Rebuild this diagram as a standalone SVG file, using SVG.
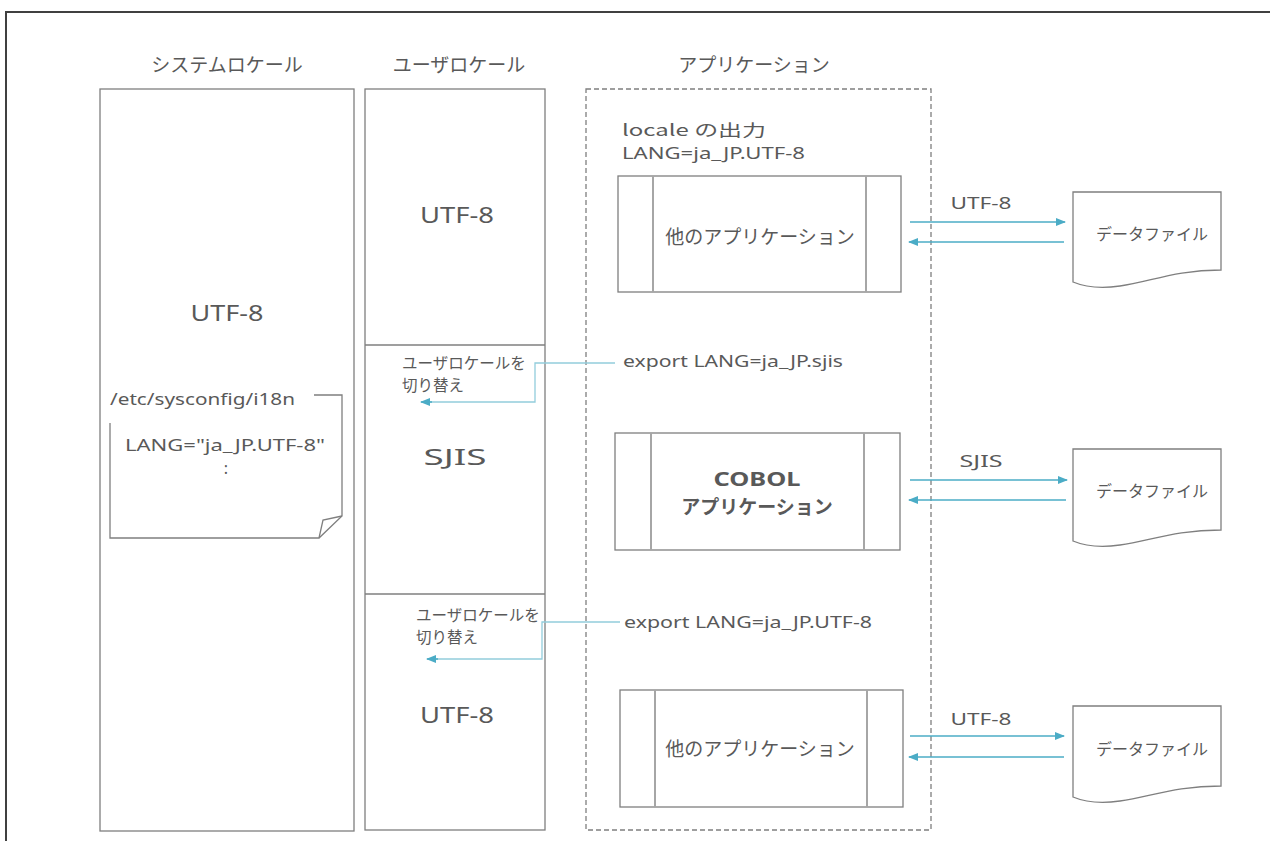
<svg xmlns="http://www.w3.org/2000/svg" width="1270" height="841" viewBox="0 0 1270 841">
<style>
text{font-family:"Noto Sans CJK JP","Noto Sans",sans-serif;fill:#595959}
.l{font-family:"Noto Sans","Noto Sans CJK JP",sans-serif}
.box{fill:#fff;stroke:#7f7f7f;stroke-width:1.3}
.in{stroke:#a6a6a6;stroke-width:2;fill:none}
.t{font-size:19px;text-anchor:middle}
.big{font-size:22px;text-anchor:middle}
.s{font-size:16px}
.sj{font-size:15.5px}
.arr{stroke:#4bacc6;stroke-width:1.5;fill:none;marker-end:url(#ah)}
.sw{stroke:#92cddc;stroke-width:1.3;fill:none}
</style>
<defs>
<marker id="ah" viewBox="0 0 10 10" refX="9" refY="5" markerWidth="10" markerHeight="10" markerUnits="userSpaceOnUse" orient="auto">
<path d="M0,1 L10,5 L0,9 Z" fill="#4bacc6"/>
</marker>
</defs>
<rect width="1270" height="841" fill="#fff"/>
<path d="M6,841 V12 H1270" fill="none" stroke="#404040" stroke-width="2"/>

<g id="system-locale">
<text class="t" x="227" y="72">システムロケール</text>
<rect class="box" x="100" y="89" width="254" height="742"/>
<text class="big l" x="227" y="321" textLength="73" lengthAdjust="spacingAndGlyphs">UTF-8</text>
</g>

<g id="config-file">
<text class="l" x="110" y="405" font-size="17" textLength="185" lengthAdjust="spacingAndGlyphs">/etc/sysconfig/i18n</text>
<path d="M314,395 H342 V516 L319,538 H110 V423" fill="none" stroke="#7f7f7f" stroke-width="1.3"/>
<path d="M342,516 L323,520 L319,538" fill="none" stroke="#7f7f7f" stroke-width="1.3"/>
<text class="l" x="225" y="451" font-size="16" text-anchor="middle" textLength="200" lengthAdjust="spacingAndGlyphs">LANG="ja_JP.UTF-8"</text>
<text class="l" x="226" y="474" font-size="16" text-anchor="middle">:</text>
</g>

<g id="user-locale">
<text class="t" x="459" y="72">ユーザロケール</text>
<rect class="box" x="365" y="89" width="180" height="741"/>
<line x1="365" y1="345" x2="545" y2="345" stroke="#7f7f7f" stroke-width="1.3"/>
<line x1="365" y1="594" x2="545" y2="594" stroke="#7f7f7f" stroke-width="1.3"/>
<text class="big l" x="457" y="223" textLength="74" lengthAdjust="spacingAndGlyphs">UTF-8</text>
<text class="big l" x="455" y="465" textLength="63" lengthAdjust="spacingAndGlyphs">SJIS</text>
<text class="big l" x="457" y="723" textLength="74" lengthAdjust="spacingAndGlyphs">UTF-8</text>
<text class="sj" x="402" y="369">ユーザロケールを</text>
<text class="sj" x="402" y="391">切り替え</text>
<text class="sj" x="416" y="621">ユーザロケールを</text>
<text class="sj" x="416" y="643">切り替え</text>
</g>

<g id="application">
<text class="t" x="754" y="72">アプリケーション</text>
<rect x="586" y="89" width="345" height="741" fill="none" stroke="#7f7f7f" stroke-width="1.3" stroke-dasharray="5,3"/>
<text class="s" x="622" y="136" textLength="144" lengthAdjust="spacingAndGlyphs">locale の出力</text>
<text class="s l" x="622" y="159" textLength="183" lengthAdjust="spacingAndGlyphs">LANG=ja_JP.UTF-8</text>
<text class="s l" x="623" y="367" textLength="220" lengthAdjust="spacingAndGlyphs">export LANG=ja_JP.sjis</text>
<text class="s l" x="624" y="628" textLength="248" lengthAdjust="spacingAndGlyphs">export LANG=ja_JP.UTF-8</text>
</g>

<g id="app1">
<rect class="box" x="618" y="176" width="283" height="116"/>
<line class="in" x1="653" y1="176" x2="653" y2="292"/>
<line class="in" x1="866" y1="176" x2="866" y2="292"/>
<text class="t" x="760" y="244">他のアプリケーション</text>
</g>

<g id="app2">
<rect class="box" x="615" y="433" width="285" height="117"/>
<line class="in" x1="651" y1="433" x2="651" y2="550"/>
<line class="in" x1="864" y1="433" x2="864" y2="550"/>
<text class="t l" x="757" y="486" font-weight="bold" textLength="87" lengthAdjust="spacingAndGlyphs">COBOL</text>
<text class="t" x="757" y="514" font-weight="bold">アプリケーション</text>
</g>

<g id="app3">
<rect class="box" x="620" y="690" width="283" height="117"/>
<line class="in" x1="655" y1="690" x2="655" y2="807"/>
<line class="in" x1="867" y1="690" x2="867" y2="807"/>
<text class="t" x="760" y="756">他のアプリケーション</text>
</g>

<g id="file1">
<path class="box" d="M1073,192 H1221 V270 C1175,270 1150,282 1120,286 C1100,289 1085,287 1073,282 Z"/>
<text x="1152" y="240" font-size="16" text-anchor="middle">データファイル</text>
</g>
<g id="file2">
<path class="box" d="M1073,449 H1221 V530 C1175,530 1150,541 1120,545 C1100,548 1085,546 1073,541 Z"/>
<text x="1152" y="497" font-size="16" text-anchor="middle">データファイル</text>
</g>
<g id="file3">
<path class="box" d="M1073,706 H1221 V786 C1175,786 1150,797 1120,801 C1100,804 1085,802 1073,797 Z"/>
<text x="1152" y="755" font-size="16" text-anchor="middle">データファイル</text>
</g>

<g id="connectors">
<line class="arr" x1="910" y1="222" x2="1065" y2="222"/>
<line class="arr" x1="1064" y1="242" x2="909" y2="242"/>
<text class="l" x="981" y="209" font-size="17" text-anchor="middle" textLength="61" lengthAdjust="spacingAndGlyphs">UTF-8</text>
<line class="arr" x1="910" y1="480" x2="1067" y2="480"/>
<line class="arr" x1="1066" y1="500" x2="909" y2="500"/>
<text class="l" x="981" y="467" font-size="17" text-anchor="middle" textLength="43" lengthAdjust="spacingAndGlyphs">SJIS</text>
<line class="arr" x1="910" y1="736" x2="1064" y2="736"/>
<line class="arr" x1="1064" y1="757" x2="909" y2="757"/>
<text class="l" x="981" y="725" font-size="17" text-anchor="middle" textLength="61" lengthAdjust="spacingAndGlyphs">UTF-8</text>
<path class="sw" d="M615,363 H535 V402 H430"/>
<line class="arr" x1="432" y1="402" x2="421" y2="402"/>
<path class="sw" d="M620,622 H542 V659 H436"/>
<line class="arr" x1="438" y1="659" x2="427" y2="659"/>
</g>
</svg>
